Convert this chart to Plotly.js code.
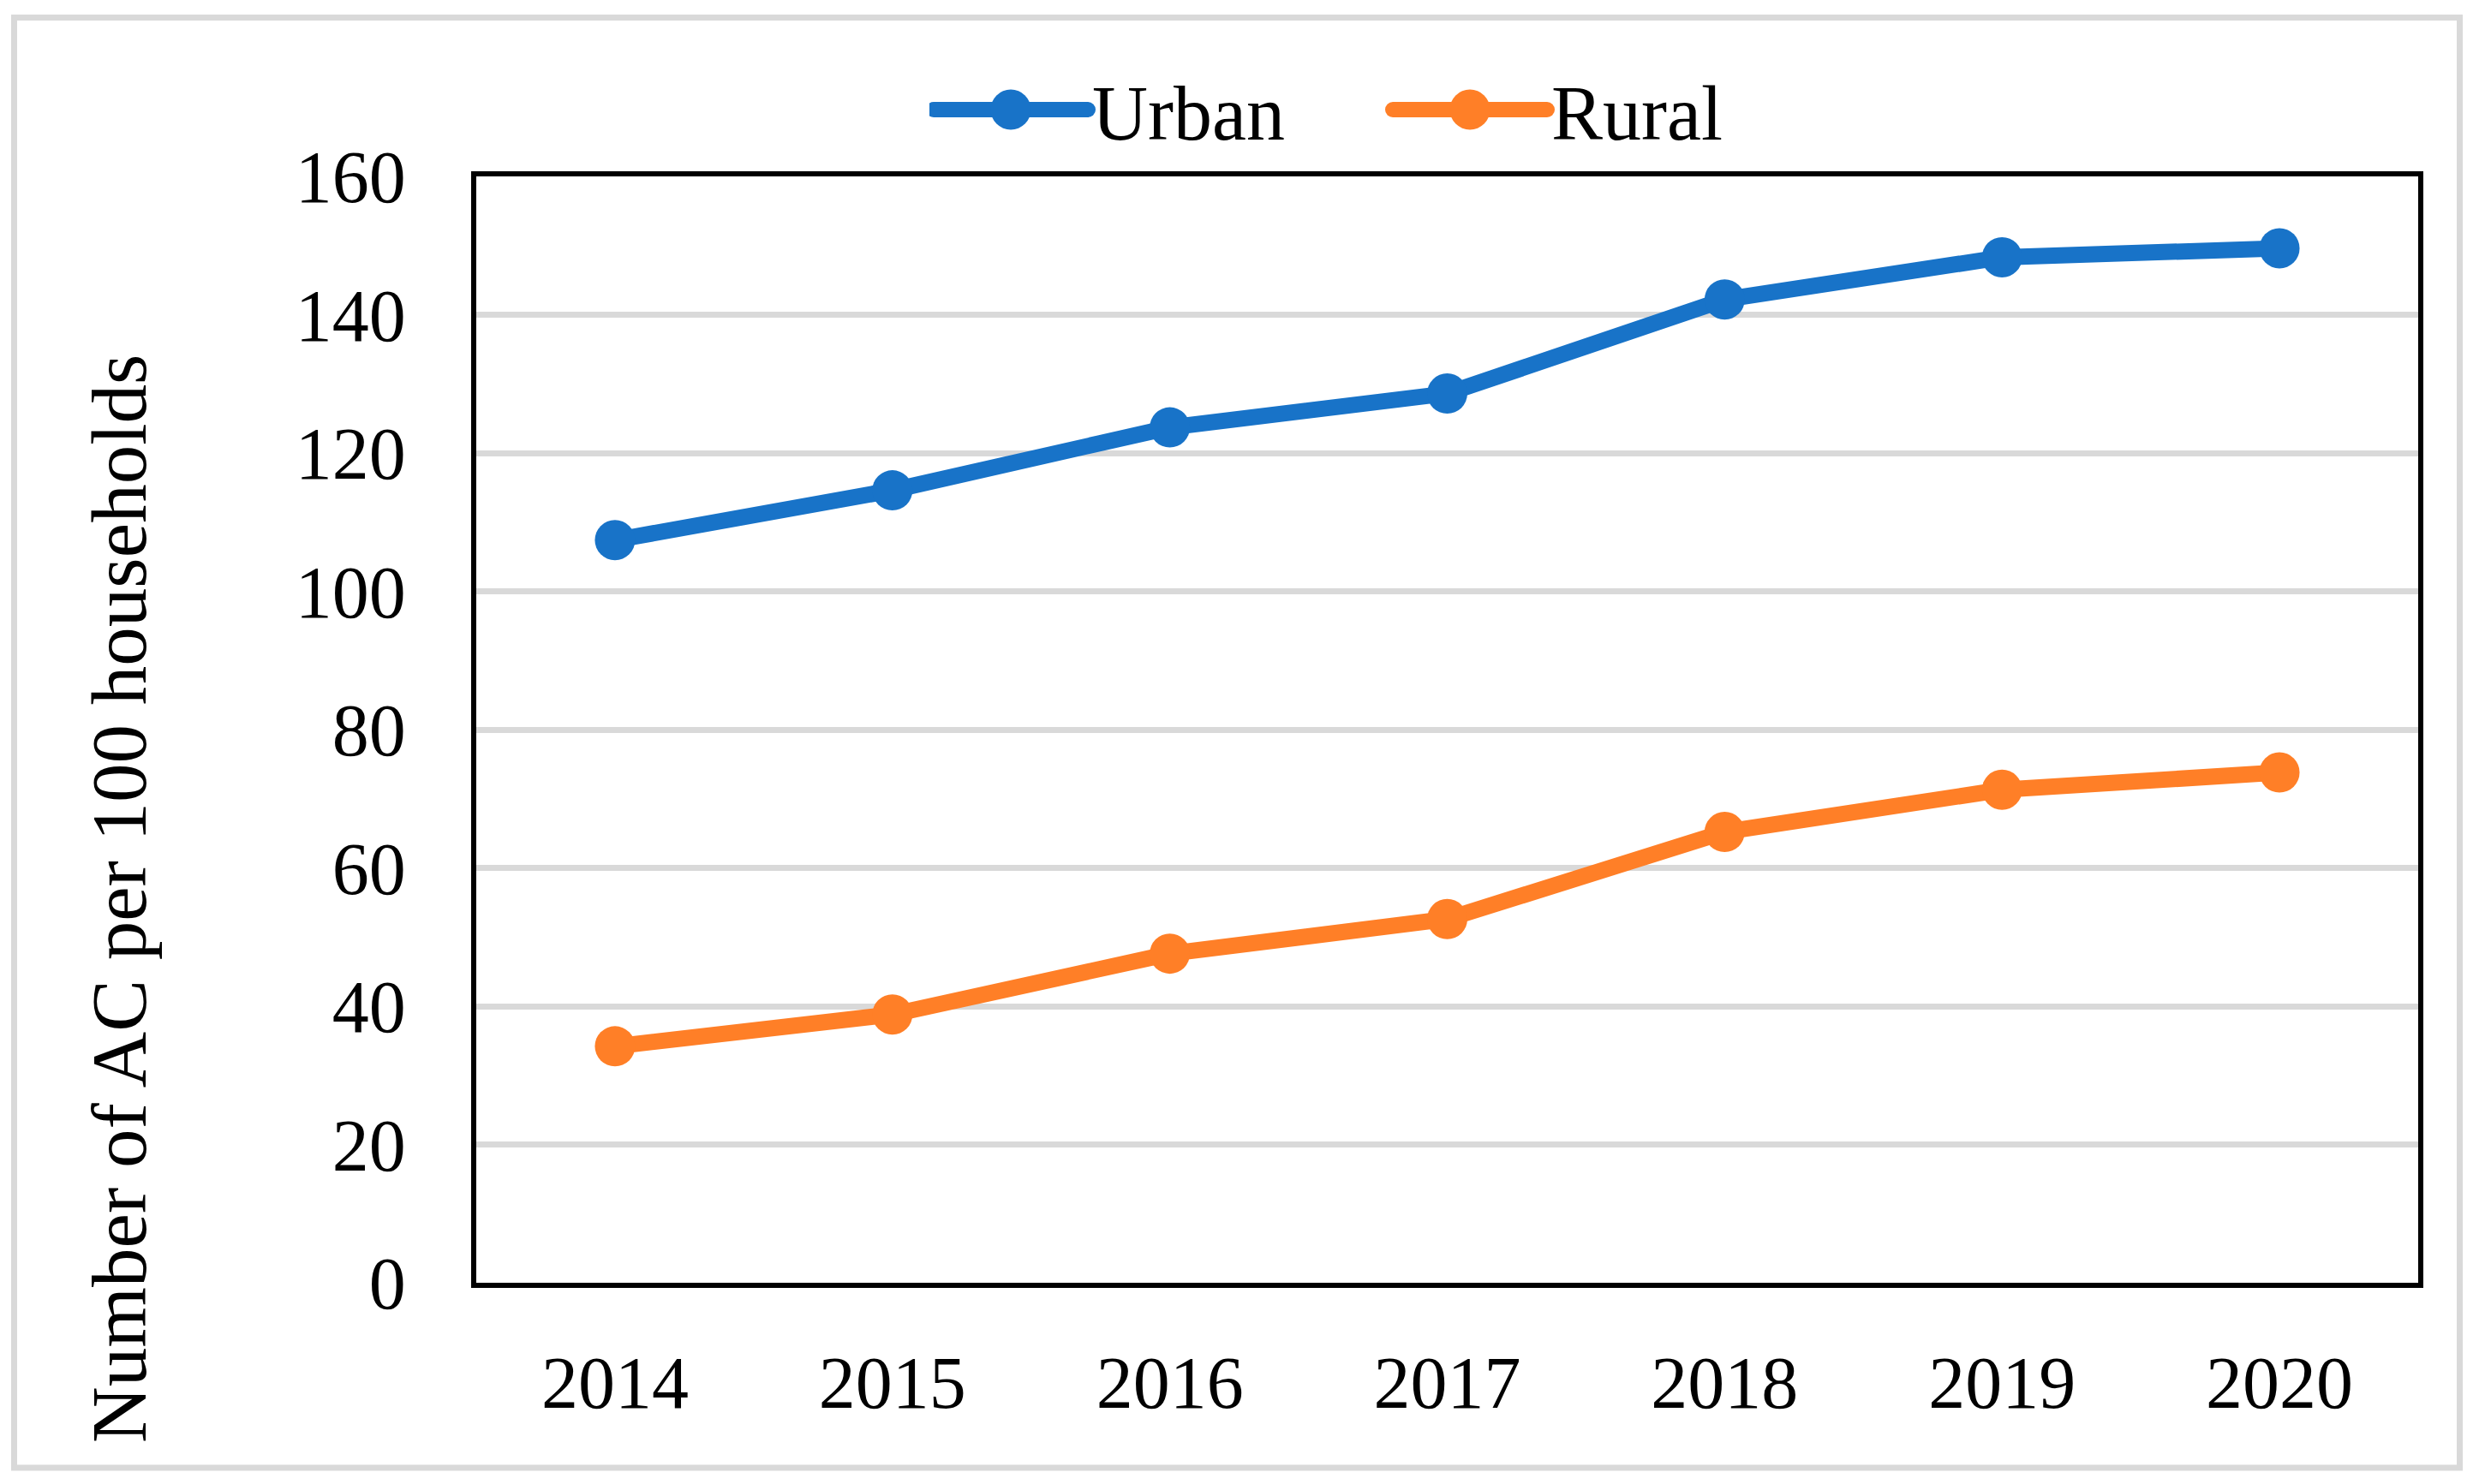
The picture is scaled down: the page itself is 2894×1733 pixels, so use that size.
<!DOCTYPE html>
<html>
<head>
<meta charset="utf-8">
<script src="https://cdn.plot.ly/plotly-3.0.1.min.js"></script>
<style>
  html, body { margin: 0; padding: 0; background: #ffffff; }
  #chart { width: 2894px; height: 1733px; }
</style>
</head>
<body>
<div id="chart"></div>
<script>
// ---- data ----
const years = ['2014', '2015', '2016', '2017', '2018', '2019', '2020'];
const urban = [107.4, 114.6, 123.7, 128.6, 142.2, 148.3, 149.6];
const rural = [34.2, 38.8, 47.6, 52.6, 65.2, 71.3, 73.8];
const seriesNames = ['Urban', 'Rural'];
const yTicks = [0, 20, 40, 60, 80, 100, 120, 140, 160];
const yTitle = 'Number of AC per 100 households';

const FONT = '"Liberation Serif", "Times New Roman", serif';
const BLUE = '#1873C8';
const ORANGE = '#FF7F27';

const W = 2894, H = 1733;
const L = 556, R = 2823, T = 206, B = 1498;
const pw = R - L, ph = B - T;
const px = v => (v - L) / pw;
const py = v => (B - v) / ph;

const traces = [
  {
    x: years, y: urban, name: seriesNames[0], type: 'scatter', mode: 'lines+markers',
    line: { color: BLUE, width: 19 },
    marker: { color: BLUE, size: 47, symbol: 'circle' }
  },
  {
    x: years, y: rural, name: seriesNames[1], type: 'scatter', mode: 'lines+markers',
    line: { color: ORANGE, width: 19 },
    marker: { color: ORANGE, size: 47, symbol: 'circle' }
  }
];

const layout = {
  width: W, height: H,
  margin: { l: L, r: W - R, t: T, b: H - B, pad: 0 },
  paper_bgcolor: '#ffffff',
  plot_bgcolor: '#ffffff',
  font: { family: FONT, size: 86, color: '#000000' },
  showlegend: true,
  legend: {
    orientation: 'h',
    x: px(1085), y: py(128), xanchor: 'left', yanchor: 'middle',
    font: { family: FONT, size: 90, color: '#000000' },
    itemwidth: 180,
    entrywidth: 341,
    bgcolor: 'rgba(0,0,0,0)'
  },
  xaxis: {
    type: 'category',
    range: [-0.5, 6.5],
    showgrid: false,
    zeroline: false,
    showline: true, mirror: true, linecolor: '#000000', linewidth: 6,
    ticks: '',
    ticklabelstandoff: 37,
    tickfont: { family: FONT, size: 86, color: '#000000' },
    fixedrange: true
  },
  yaxis: {
    range: [0, 160],
    tickvals: yTicks,
    ticktext: yTicks.map(String),
    showgrid: true, gridcolor: '#d9d9d9', gridwidth: 7,
    zeroline: false,
    showline: true, mirror: true, linecolor: '#000000', linewidth: 6,
    ticks: '',
    ticklabelstandoff: 59,
    tickfont: { family: FONT, size: 86, color: '#000000' },
    fixedrange: true
  },
  annotations: [
    {
      text: yTitle, xref: 'paper', yref: 'paper',
      x: px(139), y: py(1050), xanchor: 'center', yanchor: 'middle',
      textangle: -90, showarrow: false,
      font: { family: FONT, size: 91, color: '#000000' }
    }
  ],
  shapes: [
    {
      type: 'rect', xref: 'paper', yref: 'paper',
      x0: px(16.5), x1: px(2871.5), y0: py(1714), y1: py(20.5),
      line: { color: '#d9d9d9', width: 7 }, fillcolor: 'rgba(0,0,0,0)', layer: 'below'
    }
  ]
};

Plotly.newPlot('chart', traces, layout, { staticPlot: true, displayModeBar: false }).then(function (gd) {
  // enlarge legend samples to match the plotted line and marker sizes
  gd.querySelectorAll('.legend .legendlines path').forEach(function (p) {
    p.style.strokeWidth = '18px';
    p.style.strokeLinecap = 'round';
  });
  var r = 23.5;
  var circle = 'M' + r + ',0A' + r + ',' + r + ' 0 1,1 0,-' + r + 'A' + r + ',' + r + ' 0 0,1 ' + r + ',0Z';
  gd.querySelectorAll('.legend .legendpoints path.scatterpts').forEach(function (p) {
    p.setAttribute('d', circle);
  });
});
</script>
</body>
</html>
